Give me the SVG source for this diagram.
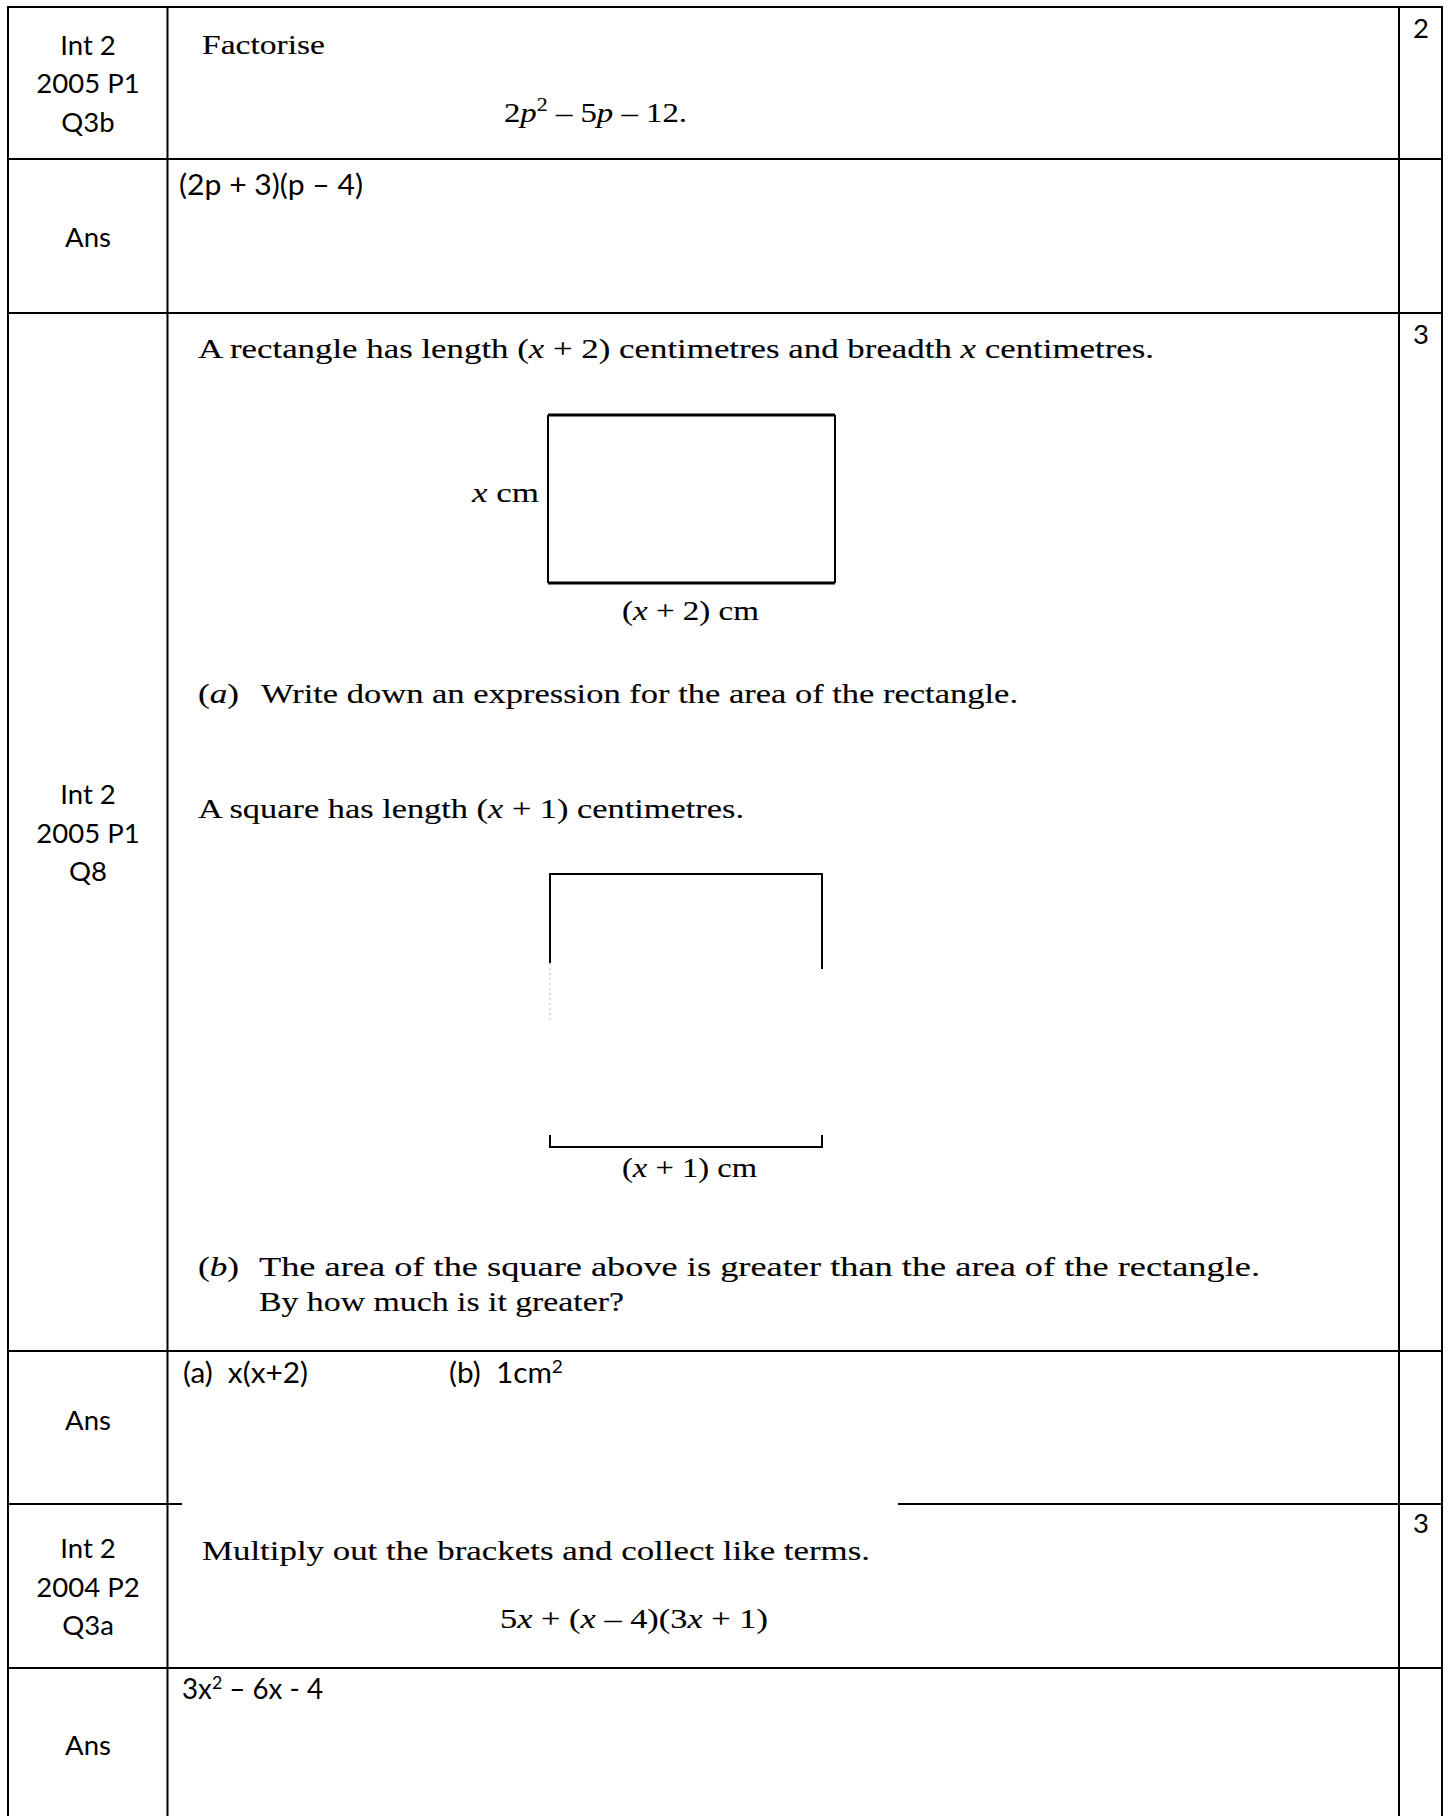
<svg xmlns="http://www.w3.org/2000/svg" width="1450" height="1816" viewBox="0 0 1450 1816">
<style>
.lbl{font-family:Lato,'Liberation Sans',sans-serif;font-size:27.5px;fill:#000;text-anchor:middle}
.ans{font-family:Lato,'Liberation Sans',sans-serif;font-size:28px;fill:#000}
.mk{font-family:Lato,'Liberation Sans',sans-serif;font-size:27.5px;fill:#000;text-anchor:middle}
.srf{font-family:'Liberation Serif','Times New Roman',serif;font-size:27px;fill:#000;stroke:#000;stroke-width:0.12}
.it{font-style:italic}
.grid line{stroke:#000;stroke-width:2}
.fig{fill:none;stroke:#000;stroke-width:2}
.figb{fill:none;stroke:#000;stroke-width:3}
</style>
<rect width="1450" height="1816" fill="#fff"/>
<g id="grid" class="grid">
  <line x1="8" y1="7" x2="1442" y2="7"/>
  <line x1="8" y1="159" x2="1442" y2="159"/>
  <line x1="8" y1="313" x2="1442" y2="313"/>
  <line x1="8" y1="1351" x2="1442" y2="1351"/>
  <line x1="8" y1="1504" x2="182" y2="1504"/>
  <line x1="898" y1="1504" x2="1442" y2="1504"/>
  <line x1="8" y1="1668" x2="1442" y2="1668"/>
  <line x1="8" y1="6" x2="8" y2="1816"/>
  <line x1="167.5" y1="6" x2="167.5" y2="1816"/>
  <line x1="1399" y1="6" x2="1399" y2="1816"/>
  <line x1="1442" y1="6" x2="1442" y2="1816"/>
</g>
<g id="row1-q3b">
  <text class="lbl" x="88" y="55">Int 2</text>
  <text class="lbl" x="88" y="93">2005 P1</text>
  <text class="lbl" x="88" y="132">Q3b</text>
  <text class="srf" x="202" y="54" textLength="123" lengthAdjust="spacingAndGlyphs">Factorise</text>
  <text class="srf" x="504" y="122" textLength="183" lengthAdjust="spacingAndGlyphs">2<tspan class="it">p</tspan><tspan dy="-11" font-size="18">2</tspan><tspan dy="11"> – 5</tspan><tspan class="it">p</tspan> – 12.</text>
  <text class="mk" x="1421" y="38">2</text>
</g>
<g id="row2-ans">
  <text class="lbl" x="88" y="247">Ans</text>
  <text class="ans" x="179" y="195" textLength="184" lengthAdjust="spacingAndGlyphs">(2p + 3)(p – 4)</text>
</g>
<g id="row3-q8">
  <text class="lbl" x="88" y="804">Int 2</text>
  <text class="lbl" x="88" y="843">2005 P1</text>
  <text class="lbl" x="88" y="881">Q8</text>
  <text class="mk" x="1421" y="344">3</text>
  <text class="srf" x="198" y="358" textLength="956" lengthAdjust="spacingAndGlyphs">A rectangle has length (<tspan class="it">x</tspan> + 2) centimetres and breadth <tspan class="it">x</tspan> centimetres.</text>
  <g id="rectangle-figure">
    <path class="fig" d="M548,415 L548,583 M835,415 L835,583"/>
    <path class="figb" d="M548,415 L835,415 M548,583 L835,583"/>
    <text class="srf" x="472" y="502" textLength="67" lengthAdjust="spacingAndGlyphs"><tspan class="it">x</tspan> cm</text>
    <text class="srf" x="622" y="620" textLength="137" lengthAdjust="spacingAndGlyphs">(<tspan class="it">x</tspan> + 2) cm</text>
  </g>
  <text class="srf" x="198" y="703" textLength="41" lengthAdjust="spacingAndGlyphs">(<tspan class="it">a</tspan>)</text>
  <text class="srf" x="261" y="703" textLength="757" lengthAdjust="spacingAndGlyphs">Write down an expression for the area of the rectangle.</text>
  <text class="srf" x="198" y="818" textLength="546" lengthAdjust="spacingAndGlyphs">A square has length (<tspan class="it">x</tspan> + 1) centimetres.</text>
  <g id="square-figure">
    <path class="fig" d="M550,963 L550,874 L822,874 L822,969"/>
    <path d="M550,963 L550,1022" fill="none" stroke="#bbb" stroke-width="1" stroke-dasharray="2,3"/>
    <path class="fig" d="M550,1135 L550,1147 L822,1147 L822,1135"/>
    <text class="srf" x="622" y="1177" textLength="135" lengthAdjust="spacingAndGlyphs">(<tspan class="it">x</tspan> + 1) cm</text>
  </g>
  <text class="srf" x="198" y="1276" textLength="41" lengthAdjust="spacingAndGlyphs">(<tspan class="it">b</tspan>)</text>
  <text class="srf" x="259" y="1276" textLength="1001" lengthAdjust="spacingAndGlyphs">The area of the square above is greater than the area of the rectangle.</text>
  <text class="srf" x="259" y="1311" textLength="365" lengthAdjust="spacingAndGlyphs">By how much is it greater?</text>
</g>
<g id="row4-ans">
  <text class="lbl" x="88" y="1430">Ans</text>
  <text class="ans" x="183" y="1383" xml:space="preserve" textLength="125" lengthAdjust="spacingAndGlyphs">(a)  x(x+2)</text>
  <text class="ans" x="449" y="1383" xml:space="preserve" textLength="114" lengthAdjust="spacingAndGlyphs">(b)  1cm<tspan dy="-10" font-size="18">2</tspan></text>
</g>
<g id="row5-q3a">
  <text class="lbl" x="88" y="1558">Int 2</text>
  <text class="lbl" x="88" y="1597">2004 P2</text>
  <text class="lbl" x="88" y="1635">Q3a</text>
  <text class="mk" x="1421" y="1533">3</text>
  <text class="srf" x="202" y="1560" textLength="668" lengthAdjust="spacingAndGlyphs">Multiply out the brackets and collect like terms.</text>
  <text class="srf" x="500" y="1628" textLength="268" lengthAdjust="spacingAndGlyphs">5<tspan class="it">x</tspan> + (<tspan class="it">x</tspan> – 4)(3<tspan class="it">x</tspan> + 1)</text>
</g>
<g id="row6-ans">
  <text class="lbl" x="88" y="1755">Ans</text>
  <text class="ans" x="182" y="1699" textLength="141" lengthAdjust="spacingAndGlyphs">3x<tspan dy="-10" font-size="18">2</tspan><tspan dy="10"> – 6x - 4</tspan></text>
</g>
</svg>
